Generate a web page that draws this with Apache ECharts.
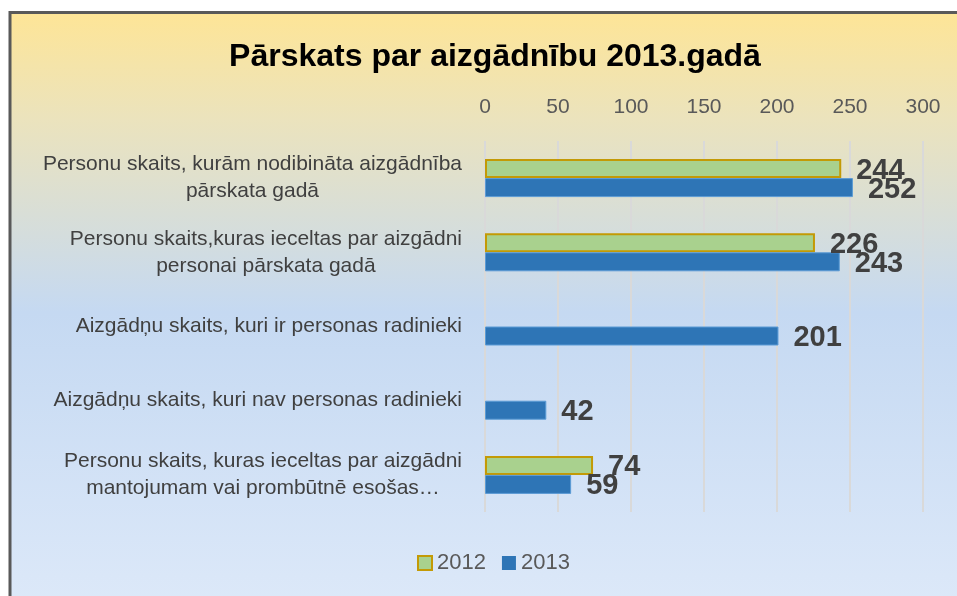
<!DOCTYPE html>
<html>
<head>
<meta charset="utf-8">
<script src="https://cdn.jsdelivr.net/npm/echarts@6/dist/echarts.min.js"></script>
<style>
html,body{margin:0;padding:0;background:#fff;}
#chart{width:957px;height:596px;}
</style>
</head>
<body>
<div id="chart"></div>
<script>
var categories = [
  "Personu skaits, kurām nodibināta aizgādnība\npārskata gadā",
  "Personu skaits,kuras ieceltas par aizgādni\npersonai pārskata gadā",
  "Aizgādņu skaits, kuri ir personas radinieki",
  "Aizgādņu skaits, kuri nav personas radinieki",
  "Personu skaits, kuras ieceltas par aizgādni\nmantojumam vai prombūtnē esošas…"
];
var values2012 = [244, 226, null, null, 74];
var values2013 = [252, 243, 201, 42, 59];
var seriesNames = ["2012", "2013"];
var xTicks = [0, 50, 100, 150, 200, 250, 300];

var FONT = "'Liberation Sans', Arial, sans-serif";
var chart = echarts.init(document.getElementById('chart'));
var labelStyle = {
  show: true, position: 'right', distance: 15, offset: [0, 2],
  fontFamily: FONT, fontSize: 29, fontWeight: 'bold', color: '#404040',
  formatter: function(p){ return p.value == null ? '' : p.value; }
};
chart.setOption({
  animation: false,
  graphic: [{
    type: 'rect', z: -10, silent: true,
    shape: {x: 10, y: 12.5, width: 960, height: 600},
    style: {
      stroke: '#595959', lineWidth: 3,
      fill: new echarts.graphic.LinearGradient(0, 0, 0, 1, [
        {offset: 0, color: '#fee596'},
        {offset: 0.18, color: '#ebe3bd'},
        {offset: 0.5, color: '#c5d9f2'},
        {offset: 1, color: '#dde9f9'}
      ])
    }
  }],
  title: {
    text: 'Pārskats par aizgādnību 2013.gadā',
    left: 490, top: 36, textAlign: 'center',
    textStyle: {fontFamily: FONT, fontSize: 32, fontWeight: 'bold', color: '#000'}
  },
  legend: {
    top: 547, left: 412,
    data: [
      {name: seriesNames[0]},
      {name: seriesNames[1], itemStyle: {borderWidth: 0}}
    ],
    icon: 'rect',
    itemWidth: 14, itemHeight: 14, itemGap: 16,
    textStyle: {fontFamily: FONT, fontSize: 22, color: '#595959'}
  },
  grid: {left: 485, right: 34, top: 141, bottom: 84, containLabel: false},
  xAxis: {
    type: 'value', position: 'top', min: 0, max: 300, interval: 50,
    axisLine: {show: false}, axisTick: {show: false},
    splitLine: {show: true, lineStyle: {color: '#d9d9d9', width: 2}},
    axisLabel: {
      margin: 23, fontFamily: FONT, fontSize: 21, color: '#595959',
      formatter: function(v){ return xTicks.indexOf(v) >= 0 ? String(v) : ''; }
    }
  },
  yAxis: {
    type: 'category', data: categories, inverse: true,
    axisLine: {show: false}, axisTick: {show: false},
    axisLabel: {
      margin: 23, align: 'right',
      fontFamily: FONT, fontSize: 21, color: '#404040', lineHeight: 27,
      formatter: function(v){
        return v.split('\n').map(function(s){ return '{c|' + s + '}'; }).join('\n');
      },
      rich: {c: {align: 'center', fontFamily: FONT, fontSize: 21, color: '#404040', lineHeight: 27}}
    }
  },
  series: [{
    name: seriesNames[0], type: 'bar', data: values2012,
    barWidth: 19, barGap: '0%',
    itemStyle: {color: '#a9d18e', borderColor: '#c39a06', borderWidth: 2},
    label: labelStyle
  }, {
    name: seriesNames[1], type: 'bar', data: values2013,
    barWidth: 19, barGap: '0%',
    itemStyle: {color: '#2e75b6', borderColor: '#5b9bd5', borderWidth: 1},
    label: labelStyle
  }]
});
</script>
</body>
</html>
